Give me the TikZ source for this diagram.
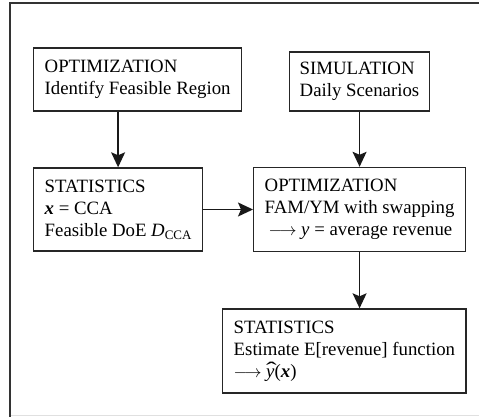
\documentclass[tikz,border=0pt]{standalone}
\usepackage{fontspec}
\setmainfont{Liberation Serif}
\usetikzlibrary{arrows.meta}
\tikzset{
  blk/.style={draw=black!85, line width=1.4pt, align=left, inner xsep=11pt, inner ysep=2pt,
    font=\fontsize{18.8}{22}\selectfont, anchor=west},
  arr/.style={line width=1.4pt, draw=black!90, -{Stealth[width=14pt,length=15pt,inset=3pt]}},
  frame/.style={draw=black!80, line width=2pt}
}
\newcommand{\subcca}{\raisebox{-0.35ex}{\fontsize{13}{13}\selectfont CCA}}
\newcommand{\yhat}{\makebox[0pt][l]{\hspace{0.0em}\raisebox{0.05em}{\scalebox{1.7}[1.1]{ˆ}}}\textit{y}}
\begin{document}
\begin{tikzpicture}[x=1pt,y=1pt]
\useasboundingbox (0,0) rectangle (479,417);
\draw[frame] (10,0) -- (10,414) -- (479,414);
\draw[draw=black!12, line width=0.8pt] (11,2) -- (479,2);

\node[blk, minimum height=63pt] (opt1) at (33,337.5) {OPTIMIZATION\\Identify Feasible Region};
\node[blk, minimum height=59pt, inner xsep=10pt] (sim) at (289,335.5) {SIMULATION\\Daily Scenarios};
\node[blk, minimum height=83pt] (stat1) at (33,207.5) {STATISTICS\\\textbf{\textit{x}} = CCA\\Feasible DoE \textit{D}\subcca};
\node[blk, minimum height=84pt] (opt2) at (253,207.5) {OPTIMIZATION\\FAM/YM with swapping\\\hspace{4pt}$\longrightarrow$ \textit{y} = average revenue};
\node[blk, minimum height=84pt] (stat2) at (222,66) {STATISTICS\\Estimate E[revenue] function\\$\longrightarrow$ \yhat(\textbf{\textit{x}})};

\draw[arr] (stat1.north |- opt1.south) -- (stat1.north);
\draw[arr] (opt2.north |- sim.south) -- (opt2.north);
\draw[arr] (stat1.east) -- (opt2.west);
\draw[arr] (opt2.south) -- (opt2.south |- stat2.north);
\end{tikzpicture}
\end{document}
